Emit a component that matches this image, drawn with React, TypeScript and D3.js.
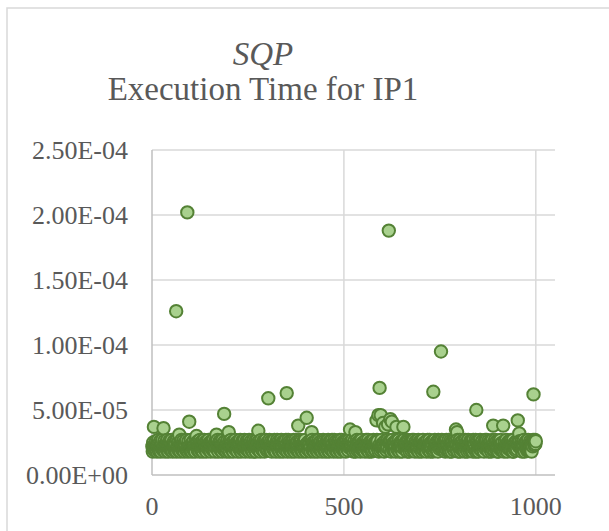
import React from 'react';
import * as d3 from 'd3';

// Execution time per iteration, in microseconds (×1e-6 s), iterations 1–250
const timesA = [
  22, 18, 25, 20, 27, 23, 19, 24, 21, 26, 20, 23, 18, 25, 22, 27, 19, 24, 21, 20,
  26, 22, 18, 23, 25, 20, 27, 21, 19, 24, 22, 26, 20, 18, 24, 21, 25, 23, 19, 27,
  21, 24, 18, 22, 26, 20, 23, 25, 19, 21, 27, 23, 20, 18, 24, 22, 26, 19, 21, 25,
  20, 24, 22, 18, 27, 21, 23, 25, 19, 26, 22, 20, 24, 18, 25, 21, 27, 23, 19, 22,
  26, 20, 24, 18, 23, 21, 25, 22, 19, 27, 20, 24, 21, 18, 26, 22, 25, 19, 23, 20,
  27, 21, 24, 18, 22, 25, 20, 26, 19, 23, 21, 24, 18, 27, 22, 20, 25, 23, 19, 26,
  20, 22, 24, 18, 27, 21, 25, 19, 23, 20, 26, 22, 18, 24, 21, 27, 20, 25, 19, 23,
  22, 18, 26, 21, 24, 20, 27, 23, 19, 25, 21, 24, 18, 22, 26, 20, 25, 23, 19, 27,
  22, 20, 24, 18, 26, 21, 25, 19, 23, 20, 27, 22, 18, 24, 21, 26, 20, 25, 19, 23,
  21, 24, 18, 27, 22, 20, 25, 23, 19, 26, 20, 22, 24, 18, 25, 21, 27, 19, 23, 20,
  26, 21, 18, 24, 22, 27, 20, 25, 19, 23, 22, 18, 26, 21, 24, 20, 27, 23, 19, 25,
  20, 24, 18, 22, 26, 21, 25, 23, 19, 27, 21, 18, 24, 20, 26, 22, 25, 19, 23, 21,
  27, 22, 18, 24, 20, 26, 21, 25, 19, 23,
];

// Iterations 251–500
const timesB = [
  24, 20, 27, 18, 22, 25, 21, 26, 19, 23, 20, 25, 18, 23, 27, 21, 24, 19, 26, 22,
  18, 24, 21, 27, 20, 25, 22, 19, 26, 23, 21, 18, 25, 22, 27, 20, 24, 19, 23, 26,
  22, 20, 18, 26, 23, 21, 27, 24, 19, 25, 20, 23, 18, 25, 21, 27, 22, 19, 24, 26,
  21, 18, 24, 22, 26, 20, 25, 19, 27, 23, 22, 20, 18, 25, 23, 27, 21, 24, 19, 26,
  20, 24, 18, 22, 26, 21, 27, 19, 25, 23, 21, 18, 26, 24, 20, 25, 22, 19, 27, 23,
  24, 20, 18, 22, 27, 21, 25, 19, 26, 23, 20, 25, 18, 23, 21, 26, 22, 19, 27, 24,
  21, 18, 24, 27, 20, 25, 22, 19, 23, 26, 22, 20, 18, 25, 24, 27, 21, 19, 26, 23,
  20, 24, 18, 22, 26, 21, 25, 19, 27, 23, 21, 18, 27, 24, 20, 25, 22, 19, 23, 26,
  24, 20, 18, 22, 26, 21, 27, 19, 25, 23, 20, 25, 18, 23, 21, 26, 22, 19, 27, 24,
  21, 18, 24, 27, 20, 25, 22, 19, 23, 26, 22, 20, 18, 25, 24, 27, 21, 19, 26, 23,
  20, 24, 18, 22, 26, 21, 25, 19, 27, 23, 21, 18, 26, 24, 20, 25, 22, 19, 27, 23,
  24, 20, 18, 22, 27, 21, 25, 19, 26, 23, 20, 25, 18, 23, 21, 26, 22, 19, 27, 24,
  21, 18, 24, 27, 20, 25, 22, 19, 23, 26,
];

// Iterations 501–750
const timesC = [
  23, 19, 26, 21, 18, 25, 22, 27, 20, 24, 19, 23, 27, 21, 25, 18, 22, 26, 20, 24,
  22, 27, 19, 24, 18, 21, 26, 23, 20, 25, 18, 23, 21, 27, 19, 25, 22, 20, 26, 24,
  21, 26, 18, 23, 20, 27, 24, 19, 22, 25, 23, 19, 25, 21, 18, 26, 22, 27, 20, 24,
  19, 22, 27, 24, 18, 21, 25, 23, 20, 26, 24, 18, 21, 26, 19, 23, 27, 22, 20, 25,
  21, 25, 19, 23, 18, 27, 22, 26, 20, 24, 18, 23, 26, 21, 19, 25, 22, 27, 20, 24,
  22, 27, 19, 24, 18, 21, 26, 23, 20, 25, 19, 23, 21, 27, 18, 25, 22, 20, 26, 24,
  21, 26, 18, 23, 20, 27, 24, 19, 22, 25, 23, 19, 25, 21, 18, 26, 22, 27, 20, 24,
  19, 22, 27, 24, 18, 21, 25, 23, 20, 26, 24, 18, 21, 26, 19, 23, 27, 22, 20, 25,
  21, 25, 19, 23, 18, 27, 22, 26, 20, 24, 18, 23, 26, 21, 19, 25, 22, 27, 20, 24,
  22, 27, 19, 24, 18, 21, 26, 23, 20, 25, 19, 23, 21, 27, 18, 25, 22, 20, 26, 24,
  21, 26, 18, 23, 20, 27, 24, 19, 22, 25, 23, 19, 25, 21, 18, 26, 22, 27, 20, 24,
  19, 22, 27, 24, 18, 21, 25, 23, 20, 26, 24, 18, 21, 26, 19, 23, 27, 22, 20, 25,
  21, 25, 19, 23, 18, 27, 22, 26, 20, 24,
];

// Iterations 751–1000
const timesD = [
  25, 21, 18, 24, 27, 20, 23, 19, 26, 22, 20, 26, 23, 18, 25, 21, 27, 19, 24, 22,
  23, 19, 27, 21, 24, 18, 26, 22, 20, 25, 18, 25, 22, 26, 20, 23, 19, 27, 21, 24,
  26, 20, 24, 19, 22, 27, 18, 23, 25, 21, 22, 27, 18, 25, 20, 24, 21, 26, 19, 23,
  19, 24, 26, 21, 18, 23, 27, 20, 25, 22, 25, 18, 22, 27, 23, 19, 24, 21, 26, 20,
  21, 26, 19, 23, 25, 18, 27, 22, 20, 24, 24, 20, 27, 18, 22, 26, 19, 25, 23, 21,
  18, 23, 25, 20, 27, 21, 24, 19, 22, 26, 26, 21, 19, 24, 18, 25, 22, 27, 20, 23,
  23, 27, 20, 22, 19, 26, 18, 24, 21, 25, 20, 24, 26, 18, 23, 21, 27, 19, 25, 22,
  25, 19, 22, 27, 21, 24, 20, 26, 18, 23, 21, 26, 18, 23, 25, 20, 22, 27, 24, 19,
  24, 20, 25, 19, 27, 22, 18, 23, 26, 21, 19, 23, 27, 21, 24, 18, 25, 22, 20, 26,
  22, 25, 20, 26, 19, 23, 27, 21, 24, 18, 27, 18, 24, 22, 20, 25, 21, 19, 23, 26,
  20, 24, 19, 25, 22, 27, 18, 26, 21, 23, 23, 21, 26, 18, 24, 20, 25, 22, 27, 19,
  18, 25, 22, 24, 21, 26, 19, 23, 20, 27, 22, 19, 24, 20, 26, 21, 23, 25, 18, 24,
  25, 22, 27, 24, 26, 23, 25, 27, 24, 26,
];

// Slow iterations: [iteration, time in microseconds]
const slowRuns: [number, number][] = [
  [5, 37], [30, 36], [63, 126], [71, 31], [92, 202], [97, 41], [116, 30],
  [168, 31], [188, 47], [200, 33], [277, 34], [303, 59], [351, 63], [381, 38],
  [403, 44], [416, 33], [516, 35], [530, 33], [585, 42], [590, 46], [593, 67],
  [596, 46], [602, 40], [608, 37], [615, 39], [617, 188], [621, 43], [625, 41],
  [637, 37], [655, 37], [733, 64], [753, 95], [792, 35], [795, 33], [845, 50],
  [889, 38], [915, 38], [953, 42], [957, 32], [994, 62],
];

const yTicks = [0, 5e-5, 1e-4, 1.5e-4, 2e-4, 2.5e-4];
const xTicks = [0, 500, 1000];

const titleLine1 = 'SQP';
const titleLine2 = 'Execution Time for IP1';

const fmtExp = (v: number) => {
  const [m, e] = v.toExponential(2).split('e');
  const sign = e.startsWith('-') ? '-' : '+';
  const digits = e.replace(/[+-]/, '').padStart(2, '0');
  return `${m}E${sign}${digits}`;
};

export default function App() {
  const width = 609;
  const height = 531;
  const left = 152;
  const right = 555;
  const top = 150;
  const bottom = 475;

  const x = d3.scaleLinear().domain([0, 1050]).range([left, right]);
  const y = d3.scaleLinear().domain([0, 2.5e-4]).range([bottom, top]);

  const slowMap = new Map(slowRuns);
  const base = [...timesA, ...timesB, ...timesC, ...timesD];
  const points = base.map((t, i) => {
    const iter = i + 1;
    const us = slowMap.has(iter) ? (slowMap.get(iter) as number) : t;
    return { iter, time: us * 1e-6 };
  });

  const serif = { fontFamily: 'Liberation Serif' };
  const textColor = '#595959';

  return (
    <svg
      width={width}
      height={height}
      style={{ position: 'absolute', left: 0, top: 0, background: '#fff' }}
    >
      <rect x={7} y={8} width={640} height={560} fill="#fff" stroke="#d9d9d9" strokeWidth={1.5} />

      <text x={263} y={65} textAnchor="middle" style={{ ...serif, fontStyle: 'italic' }} fontSize={33} fill={textColor}>
        {titleLine1}
      </text>
      <text x={263} y={100} textAnchor="middle" style={serif} fontSize={33} fill={textColor}>
        {titleLine2}
      </text>

      {/* horizontal gridlines */}
      {yTicks.slice(1).map((t) => (
        <line key={`hy${t}`} x1={left} x2={right} y1={y(t)} y2={y(t)} stroke="#d9d9d9" strokeWidth={1.5} />
      ))}
      {/* vertical gridlines */}
      {xTicks.slice(1).map((t) => (
        <line key={`vx${t}`} x1={x(t)} x2={x(t)} y1={top} y2={bottom} stroke="#d9d9d9" strokeWidth={1.5} />
      ))}
      {/* axes */}
      <line x1={left} x2={left} y1={top} y2={bottom} stroke="#bfbfbf" strokeWidth={1.5} />
      <line x1={left} x2={right} y1={bottom} y2={bottom} stroke="#bfbfbf" strokeWidth={1.5} />

      {yTicks.map((t) => (
        <text key={`yl${t}`} x={128} y={y(t) + 9} textAnchor="end" style={serif} fontSize={26} fill={textColor}>
          {fmtExp(t)}
        </text>
      ))}
      {xTicks.map((t) => (
        <text key={`xl${t}`} x={x(t)} y={515} textAnchor="middle" style={serif} fontSize={26} fill={textColor}>
          {t}
        </text>
      ))}

      <g>
        {points.map((p) => (
          <circle
            key={p.iter}
            cx={x(p.iter)}
            cy={y(p.time)}
            r={6.2}
            fill="#a9d18e"
            stroke="#548235"
            strokeWidth={2}
          />
        ))}
      </g>
    </svg>
  );
}
